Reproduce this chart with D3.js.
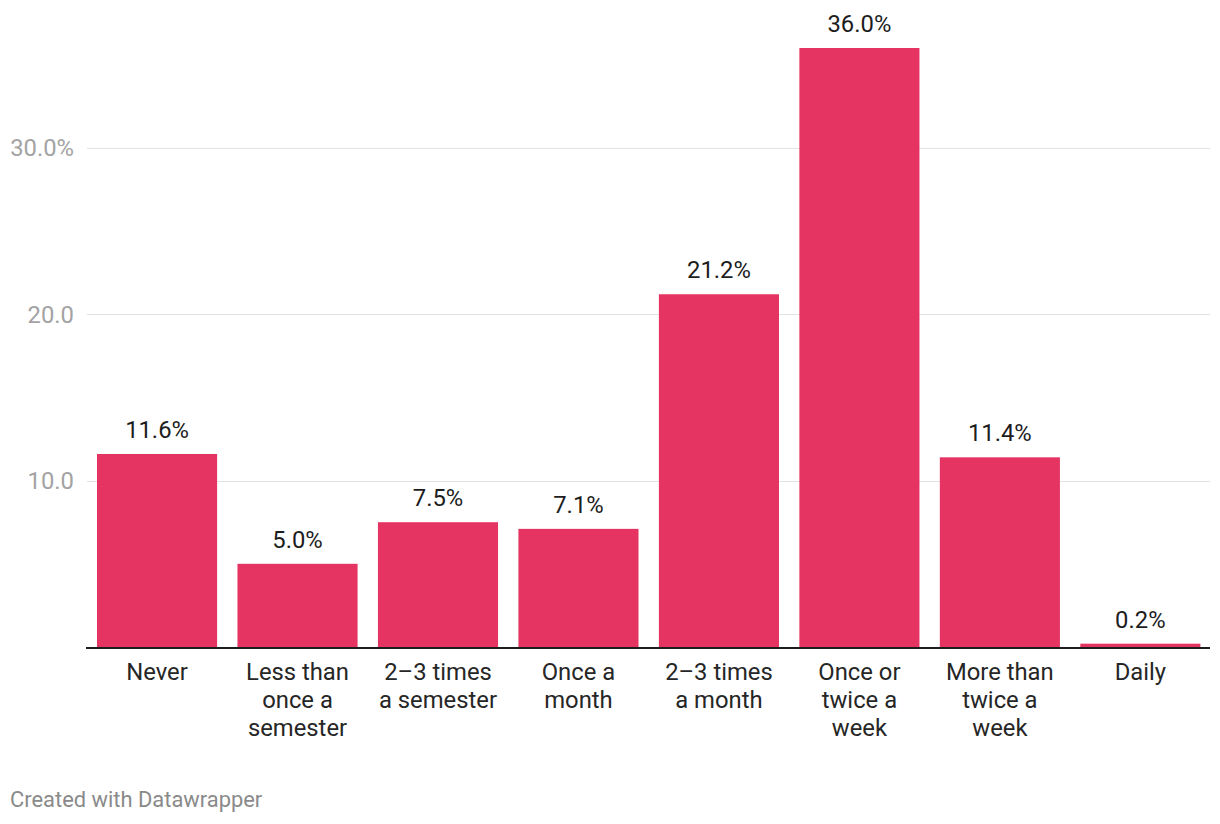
<!DOCTYPE html>
<html><head><meta charset="utf-8">
<script src="https://cdn.jsdelivr.net/npm/d3@7"></script>
<style>
html,body{margin:0;padding:0;background:#fff;}
svg{display:block;font-family:Roboto, sans-serif;}
</style></head>
<body><svg id="c" width="1220" height="824"></svg>
<script>
const categories = [
  ["Never"],
  ["Less than","once a","semester"],
  ["2\u20133 times","a semester"],
  ["Once a","month"],
  ["2\u20133 times","a month"],
  ["Once or","twice a","week"],
  ["More than","twice a","week"],
  ["Daily"]
];
const values = [11.6, 5.0, 7.5, 7.1, 21.2, 36.0, 11.4, 0.2];
const yTicks = [10, 20, 30];
const yTickLabels = ["10.0", "20.0", "30.0%"];
const footer = "Created with Datawrapper";

const svg = d3.select("#c");
const x = d3.scaleBand().domain(d3.range(values.length)).range([97, 1200.4]).paddingInner(0.145).paddingOuter(0);
const y = d3.scaleLinear().domain([0, 36]).range([647, 48]);

// grid
svg.append("g").selectAll("line").data(yTicks).join("line")
  .attr("x1", 87).attr("x2", 1210)
  .attr("y1", d => Math.round(y(d)) + 0.5).attr("y2", d => Math.round(y(d)) + 0.5)
  .attr("stroke", "#e2e2e2").attr("stroke-width", 1);
svg.append("g").selectAll("text").data(yTicks).join("text")
  .attr("x", 74).attr("y", d => y(d) + 8.5)
  .attr("text-anchor", "end").attr("fill", "#a3a3a3")
  .style("font-size", "23.8px")
  .text((d, i) => yTickLabels[i]);

// bars
svg.append("g").selectAll("rect").data(values).join("rect")
  .attr("x", (d, i) => x(i)).attr("width", x.bandwidth())
  .attr("y", d => y(d)).attr("height", d => y(0) - y(d))
  .attr("fill", "#e63462");

// value labels
svg.append("g").selectAll("text").data(values).join("text")
  .attr("x", (d, i) => x(i) + x.bandwidth() / 2)
  .attr("y", d => y(d) - 16)
  .attr("text-anchor", "middle").attr("fill", "#1d1d1d")
  .style("font-size", "23.8px")
  .text(d => d.toFixed(1) + "%");

// baseline
svg.append("line").attr("x1", 86).attr("x2", 1210)
  .attr("y1", 648).attr("y2", 648).attr("stroke", "#1d1d1d").attr("stroke-width", 2);

// category labels
const cg = svg.append("g").selectAll("text").data(categories).join("text")
  .attr("text-anchor", "middle").attr("fill", "#262626")
  .style("font-size", "23.8px")
  .attr("x", (d, i) => x(i) + x.bandwidth() / 2)
  .attr("y", 680);
cg.selectAll("tspan").data(d => d).join("tspan")
  .attr("x", function() { return d3.select(this.parentNode).attr("x"); })
  .attr("dy", (d, i) => i === 0 ? 0 : 27.8)
  .text(d => d);

svg.append("text").attr("x", 10).attr("y", 807).attr("fill", "#8a8a8a")
  .style("font-size", "21.9px").text(footer);
</script></body></html>
